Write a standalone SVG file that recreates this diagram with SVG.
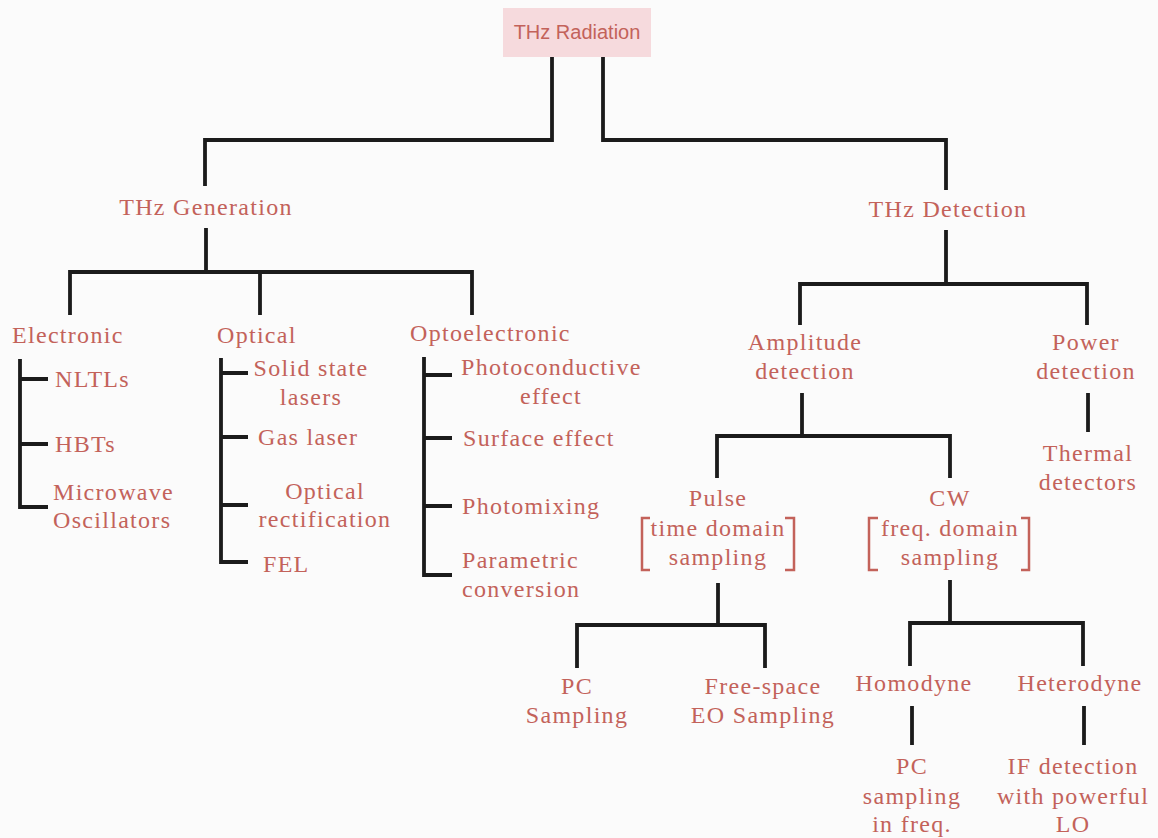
<svg xmlns="http://www.w3.org/2000/svg" width="1158" height="838" viewBox="0 0 1158 838">
<style>
.t{font-family:"Liberation Serif","Times New Roman",serif;font-size:24px;letter-spacing:1.3px;fill:#c3625a}
.m{text-anchor:middle}
.c{fill:none;stroke:#1b1b1b;stroke-width:3.8;stroke-linecap:butt}
.b{fill:none;stroke:#c3625a;stroke-width:2.5}
</style>
<rect width="1158" height="838" fill="#fbfbfb"/>
<g id="connectors">
<path class="c" d="M552,57V140H205V186M603,57V140H946V190"/>
<path class="c" d="M206,228V272M70,315V272H472V315M260,272V315"/>
<path class="c" d="M20,359V507H48M20,379H48M20,444H48"/>
<path class="c" d="M221,358V562H248M221,373H248M221,437H248M221,505H248"/>
<path class="c" d="M424,357V575H452M424,375H452M424,438H452M424,506H452"/>
<path class="c" d="M946,230V284M800,325V284H1087V325"/>
<path class="c" d="M1088,393V432"/>
<path class="c" d="M802,393V436M717,478V436H950V478"/>
<path class="c" d="M718,583V625M577,668V625H765V668"/>
<path class="c" d="M950,580V623M910,666V623H1083V666"/>
<path class="c" d="M912,706V745M1084,706V745"/>
</g>
<g id="root">
<rect x="503" y="8" width="148" height="49" fill="#f6dadd"/>
<text x="577" y="39" class="m" style="font-family:'Liberation Sans',Arial,sans-serif;font-size:20px;fill:#c3625a">THz Radiation</text>
</g>
<g id="gen"><text class="t m" x="206" y="215">THz Generation</text></g>
<g id="det"><text class="t m" x="948" y="217">THz Detection</text></g>
<g id="electronic"><text class="t" x="12" y="343">Electronic</text></g>
<g id="optical"><text class="t" x="217" y="343">Optical</text></g>
<g id="optoelectronic"><text class="t" x="410" y="341">Optoelectronic</text></g>
<g id="nltls"><text class="t" x="55" y="387">NLTLs</text></g>
<g id="hbts"><text class="t" x="55" y="452">HBTs</text></g>
<g id="microwave"><text class="t" x="53" y="500">Microwave</text><text class="t" x="53" y="528">Oscillators</text></g>
<g id="solid"><text class="t m" x="311" y="376">Solid state</text><text class="t m" x="311" y="405">lasers</text></g>
<g id="gas"><text class="t" x="258" y="445">Gas laser</text></g>
<g id="optrect"><text class="t m" x="325" y="499">Optical</text><text class="t m" x="325" y="527">rectification</text></g>
<g id="fel"><text class="t" x="263" y="572">FEL</text></g>
<g id="photocond"><text class="t" x="461" y="375">Photoconductive</text><text class="t m" x="551" y="404">effect</text></g>
<g id="surface"><text class="t" x="463" y="446">Surface effect</text></g>
<g id="photomix"><text class="t" x="462" y="514">Photomixing</text></g>
<g id="parametric"><text class="t" x="462" y="568">Parametric</text><text class="t" x="462" y="597">conversion</text></g>
<g id="amplitude"><text class="t m" x="805" y="350">Amplitude</text><text class="t m" x="805" y="379">detection</text></g>
<g id="power"><text class="t m" x="1086" y="350">Power</text><text class="t m" x="1086" y="379">detection</text></g>
<g id="thermal"><text class="t m" x="1088" y="461">Thermal</text><text class="t m" x="1088" y="490">detectors</text></g>
<g id="pulse"><text class="t m" x="718" y="506">Pulse</text><text class="t m" x="718" y="536">time domain</text><text class="t m" x="718" y="565">sampling</text>
<path class="b" d="M650,518H642V570H650M785,518H794V570H785"/></g>
<g id="cw"><text class="t m" x="950" y="506">CW</text><text class="t m" x="950" y="536">freq. domain</text><text class="t m" x="950" y="565">sampling</text>
<path class="b" d="M878,518H869V570H878M1021,518H1029V570H1021"/></g>
<g id="pcs"><text class="t m" x="577" y="694">PC</text><text class="t m" x="577" y="723">Sampling</text></g>
<g id="freespace"><text class="t m" x="763" y="694">Free-space</text><text class="t m" x="763" y="723">EO Sampling</text></g>
<g id="homodyne"><text class="t m" x="914" y="691">Homodyne</text></g>
<g id="heterodyne"><text class="t m" x="1080" y="691">Heterodyne</text></g>
<g id="pcfreq"><text class="t m" x="912" y="774">PC</text><text class="t m" x="912" y="804">sampling</text><text class="t m" x="912" y="832">in freq.</text></g>
<g id="ifdet"><text class="t m" x="1073" y="774">IF detection</text><text class="t m" x="1073" y="804">with powerful</text><text class="t m" x="1073" y="832">LO</text></g>
</svg>
